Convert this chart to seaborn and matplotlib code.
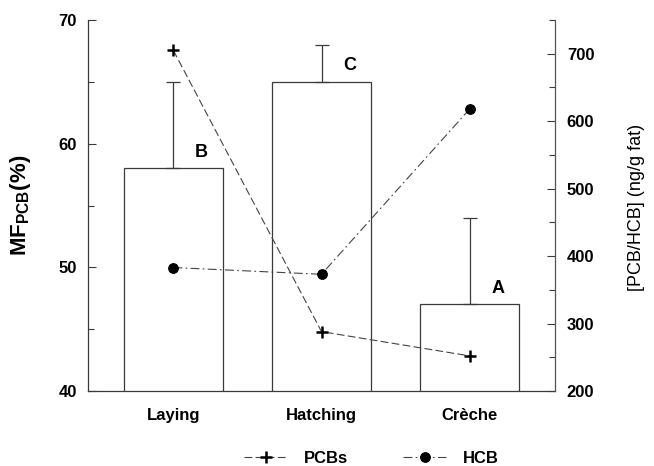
import matplotlib
matplotlib.use("Agg")
import matplotlib.pyplot as plt
from matplotlib.ticker import MultipleLocator
import seaborn as sns
import pandas as pd
import numpy as np

# Breeding stages and measured values
stages = ["Laying", "Hatching", "Crèche"]
mf_pcb = [58, 65, 47]            # MF_PCB (%)
mf_pcb_sd = [7, 3, 7]            # upper error bar
letters = ["B", "C", "A"]
pcbs = [705, 288, 252]           # ng/g fat
hcb = [383, 373, 618]            # ng/g fat

sns.set_theme(style="white")
plt.rcParams["font.family"] = ["Liberation Sans", "DejaVu Sans"]
plt.rcParams["text.color"] = "black"
plt.rcParams["axes.labelcolor"] = "black"
plt.rcParams["xtick.color"] = "black"
plt.rcParams["ytick.color"] = "black"

fig = plt.figure(figsize=(6.54, 4.66), dpi=100)
ax = fig.add_axes([0.1346, 0.161, 0.714, 0.796])

edge = "#3a3a3a"
df = pd.DataFrame({"stage": stages, "mf": mf_pcb})
sns.barplot(data=df, x="stage", y="mf", ax=ax, fill=False, width=0.667,
            edgecolor=edge, linewidth=0.9, errorbar=None)
xpos = np.arange(len(stages))
ax.errorbar(xpos, mf_pcb, yerr=[np.zeros(3), mf_pcb_sd], fmt="none",
            ecolor=edge, elinewidth=0.9, capsize=5, capthick=0.9)
for x, y, t in zip(xpos, mf_pcb, letters):
    ax.text(x + 0.19, y + 0.6, t, ha="center", va="bottom",
            fontsize=13, fontweight="bold")

ax.set_ylim(40, 70)
ax.set_xlim(-0.576, 2.576)
ax.yaxis.set_major_locator(MultipleLocator(10))
ax.yaxis.set_minor_locator(MultipleLocator(5))
ax.tick_params(axis="y", which="both", direction="in", left=True,
               length=6, width=0.8, color=edge, labelsize=12, pad=8)
ax.tick_params(axis="y", which="minor", length=4)
ax.tick_params(axis="x", bottom=False, length=0, labelsize=12, pad=12)
for lab in ax.get_yticklabels() + ax.get_xticklabels():
    lab.set_fontweight("bold")
ax.set_xlabel("")
ax.set_ylabel(r"MF$_{\mathregular{PCB}}$(%)", fontsize=16, fontweight="bold")
ax.yaxis.set_label_coords(-0.118, 0.5)
ax.spines["top"].set_visible(False)
ax.spines["right"].set_visible(False)
for s in ("left", "bottom"):
    ax.spines[s].set_color(edge)
    ax.spines[s].set_linewidth(0.9)

ax2 = ax.twinx()
ldf = pd.DataFrame({"x": xpos, "PCBs": pcbs, "HCB": hcb})
sns.lineplot(data=ldf, x="x", y="PCBs", ax=ax2, color="#444444",
             linewidth=0.8, marker="+", markersize=8,
             markeredgewidth=1.8, markeredgecolor="black", label="PCBs")
sns.lineplot(data=ldf, x="x", y="HCB", ax=ax2, color="#444444",
             linewidth=0.8, marker="o", markersize=7,
             markerfacecolor="black", markeredgecolor="black", label="HCB")
ax2.lines[0].set_dashes([7, 3])
ax2.lines[1].set_dashes([8, 3, 1.5, 3])
ax2.set_ylim(200, 750)
ax2.set_xlim(-0.576, 2.576)
ax2.set_yticks([200, 300, 400, 500, 600, 700])
ax2.yaxis.set_minor_locator(MultipleLocator(50))
ax2.tick_params(axis="y", which="both", direction="in", right=True,
                length=6, width=0.8, color=edge, labelsize=12, pad=8.5)
ax2.tick_params(axis="y", which="minor", length=4)
for lab in ax2.get_yticklabels():
    lab.set_fontweight("bold")
ax2.set_ylabel("[PCB/HCB] (ng/g fat)", fontsize=13)
ax2.yaxis.set_label_coords(1.156, 0.495)
ax2.set_xlabel("")
for s in ("top", "left", "bottom"):
    ax2.spines[s].set_visible(False)
ax2.spines["right"].set_color("#555555")
ax2.spines["right"].set_linewidth(0.9)

leg = ax2.legend(loc="center", bbox_to_anchor=(0.568, 0.016),
                 bbox_transform=fig.transFigure, ncol=2, frameon=False,
                 fontsize=12, handlelength=2.6, columnspacing=3.3,
                 handletextpad=1.0, borderaxespad=0, borderpad=0)
for t in leg.get_texts():
    t.set_fontweight("bold")

fig.savefig("out.png", dpi=100)
